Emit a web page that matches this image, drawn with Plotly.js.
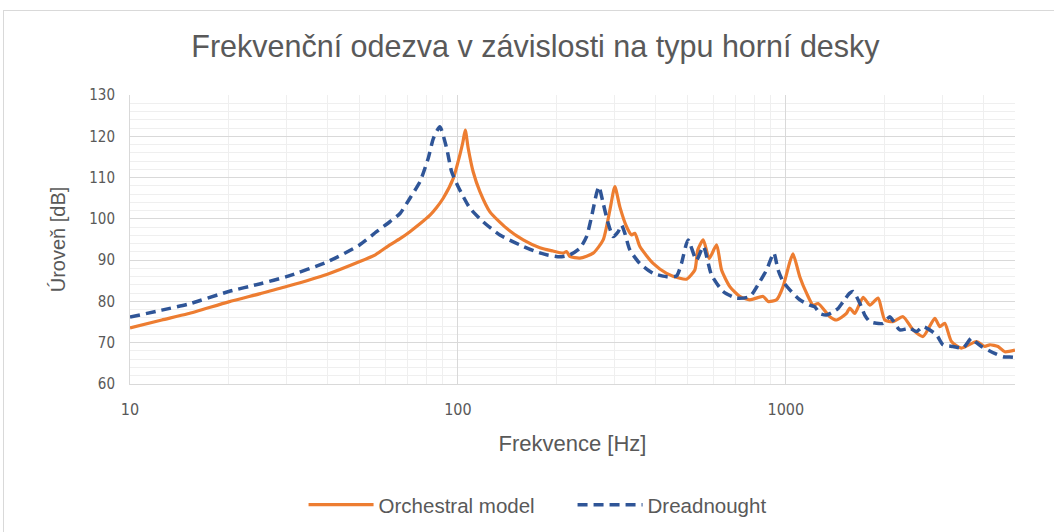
<!DOCTYPE html>
<html>
<head>
<meta charset="utf-8">
<script src="https://cdn.plot.ly/plotly-3.0.1.min.js"></script>
<style>
html,body{margin:0;padding:0;background:#fff;}
#wrap{position:relative;width:1054px;height:532px;overflow:hidden;}
#chart{position:absolute;left:0;top:0;width:1054px;height:532px;}
#frame{position:absolute;left:3px;top:10px;width:1200px;height:700px;border:1px solid #d9d9d9;pointer-events:none;}
</style>
</head>
<body>
<div id="wrap"><div id="frame"></div><div id="chart"></div></div>
<script>
// Orchestral model (frequency in Hz, level in dB)
const orchFreq = [10, 12.5, 15, 20, 25, 30, 40, 50, 56, 62, 66.6, 71.4, 76.6, 82.2, 86, 90.2, 96.8, 101.4, 103.5, 105.3, 107.5, 111.3, 116.7, 125.2, 140.8, 158.2, 177.8, 195, 209.4, 214.5, 219.5, 235.5, 258.5, 277.3, 290.7, 301.1, 311.8, 326.9, 338.6, 346.5, 358.9, 393.9, 432.9, 475.2, 498.1, 527.9, 539, 560, 584, 615, 637, 675, 724, 777, 853, 883, 937, 981, 1028, 1052, 1103, 1157, 1211, 1255, 1362, 1428, 1531, 1567, 1623, 1721, 1804, 1912, 2004, 2124, 2278, 2444, 2622, 2847, 2948, 3053, 3200, 3434, 3815, 4043, 4188, 4440, 4654, 5000];
const orchLevel = [73.6, 75.5, 77.0, 79.9, 81.9, 83.6, 86.6, 89.6, 91.3, 93.7, 95.2, 96.9, 98.8, 100.9, 102.7, 105.0, 109.8, 115.5, 118.5, 121.5, 117.1, 111.4, 106.6, 101.7, 97.7, 94.9, 93.0, 92.2, 91.7, 92.1, 90.9, 90.5, 91.7, 94.9, 102.1, 107.8, 102.9, 98.1, 96.1, 96.5, 93.3, 89.2, 86.8, 85.6, 85.4, 87.6, 92.5, 94.9, 90.4, 93.7, 87.6, 83.6, 81.2, 80.4, 81.2, 80.0, 80.4, 83.6, 89.5, 91.5, 86.0, 82.0, 79.1, 79.5, 76.3, 75.5, 77.1, 78.4, 77.1, 81.0, 79.1, 80.8, 75.5, 75.1, 76.3, 73.1, 71.5, 75.9, 73.9, 74.7, 70.3, 68.7, 70.3, 69.1, 69.5, 69.1, 67.8, 68.2];

// Dreadnought
const dreadFreq = [10, 12.5, 15, 20, 25, 30, 40, 50, 56.5, 62, 66.6, 71.4, 76.6, 81.2, 84.2, 88.1, 92.4, 95.7, 100.2, 108.8, 119.4, 134.3, 154.5, 173.8, 186.4, 204.6, 219.5, 235.5, 246.8, 255.6, 264.8, 269.1, 277.3, 287.3, 297.6, 308.2, 315.6, 323, 334.4, 358.9, 393.9, 432.9, 464.4, 480.6, 503.5, 534.2, 560.4, 593.6, 644, 707.4, 776.8, 833.4, 873.4, 919.3, 947.3, 981.3, 1028.5, 1103, 1183.6, 1226, 1270, 1330, 1394, 1444, 1495, 1567, 1604, 1681, 1741, 1804, 1890, 1980, 2076, 2150, 2226, 2388, 2503, 2622, 2881, 3017, 3237, 3473, 3683, 3815, 3951, 4337, 4598, 4932, 5000];
const dreadLevel = [76.2, 77.9, 79.3, 82.4, 84.3, 86.0, 89.6, 93.6, 96.9, 99.3, 101.3, 105.0, 109.0, 114.7, 119.5, 122.3, 117.1, 111.4, 107.8, 102.6, 99.3, 96.1, 93.7, 92.0, 91.3, 90.8, 91.3, 92.9, 95.7, 100.5, 106.2, 107.8, 103.8, 98.9, 95.7, 96.9, 98.5, 96.5, 92.5, 89.2, 86.8, 86.0, 86.2, 89.2, 94.9, 90.0, 93.3, 86.4, 82.4, 80.8, 81.2, 84.8, 87.6, 91.7, 87.6, 84.8, 82.8, 80.4, 79.1, 78.7, 77.1, 76.7, 77.5, 78.3, 79.9, 82.0, 82.4, 79.6, 76.7, 75.1, 74.7, 74.7, 76.3, 74.7, 73.1, 73.5, 72.7, 73.9, 71.9, 69.5, 69.1, 68.7, 71.1, 70.0, 69.1, 67.4, 66.6, 66.5, 66.4];

const seriesNames = ["Orchestral model", "Dreadnought"];
const xTickVals = [10, 100, 1000];
const xTickText = ["10", "100", "1000"];
const xMinorVals = [20,30,40,50,60,70,80,90,200,300,400,500,600,700,800,900,2000,3000,4000,5000];
const titleText = "Frekvenční odezva v závislosti na typu horní desky";
const xTitle = "Frekvence [Hz]";
const yTitle = "Úroveň [dB]";

const COND = '"DejaVu Sans Condensed", "Liberation Sans", sans-serif';
const WIDE = '"Liberation Sans", Arial, sans-serif';

const traces = [
  {x: orchFreq, y: orchLevel, name: seriesNames[0], type: 'scatter', mode: 'lines',
   line: {color: '#ED7D31', width: 3.2, shape: 'spline', smoothing: 0.6}},
  {x: dreadFreq, y: dreadLevel, name: seriesNames[1], type: 'scatter', mode: 'lines',
   line: {color: '#2F5597', width: 3.5, dash: '10px,6px', shape: 'spline', smoothing: 0.6}}
];

const layout = {
  width: 1054, height: 532,
  margin: {l: 130, r: 39, t: 95, b: 148},
  paper_bgcolor: 'rgba(0,0,0,0)', plot_bgcolor: '#fff',
  font: {family: COND, color: '#595959', size: 16},
  title: {text: titleText, font: {family: WIDE, size: 30.5, color: '#595959'}, x: 0.508, xanchor: 'center', y: 0.912, yanchor: 'middle'},
  showlegend: true,
  legend: {orientation: 'h', xref: 'container', yref: 'container', x: 0.288, xanchor: 'left', y: 0.051, yanchor: 'middle',
           itemwidth: 65, entrywidth: 189, entrywidthmode: 'pixels',
           font: {family: WIDE, size: 20.5, color: '#595959'}, traceorder: 'normal'},
  xaxis: {
    type: 'log', range: [1, Math.log10(5000)],
    tickmode: 'array', tickvals: xTickVals, ticktext: xTickText,
    showgrid: true, gridcolor: '#D9D9D9', gridwidth: 1,
    minor: {tickmode: 'array', tickvals: xMinorVals, showgrid: true, gridcolor: '#EFEFEF', gridwidth: 1},
    showline: true, linecolor: '#D9D9D9', linewidth: 1,
    zeroline: false, ticks: '', ticklabelstandoff: 11,
    tickfont: {family: COND, size: 16, color: '#595959'},
    title: {text: xTitle, font: {family: WIDE, size: 22, color: '#595959'}, standoff: 17}
  },
  yaxis: {
    range: [60, 130], dtick: 10, tick0: 60,
    showgrid: true, gridcolor: '#D9D9D9', gridwidth: 1,
    minor: {dtick: 2, showgrid: true, gridcolor: '#EFEFEF', gridwidth: 1},
    showline: true, linecolor: '#D9D9D9', linewidth: 1,
    zeroline: false, ticks: '', ticklabelstandoff: 11,
    tickfont: {family: COND, size: 15, color: '#595959'},
    title: {text: yTitle, font: {family: WIDE, size: 20, color: '#595959'}, standoff: 18}
  }
};

Plotly.newPlot('chart', traces, layout, {staticPlot: true, displayModeBar: false});
</script>
</body>
</html>
